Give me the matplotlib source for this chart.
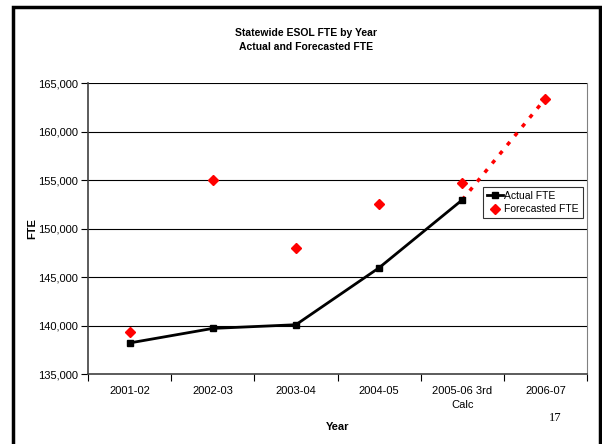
import numpy as np
import matplotlib
matplotlib.use("Agg")
import matplotlib.pyplot as plt
from matplotlib.patches import Rectangle
from matplotlib.ticker import FuncFormatter, FixedLocator

plt.rcParams['font.family'] = ['Liberation Sans', 'DejaVu Sans']

# --- data ---
years = ["2001-02", "2002-03", "2003-04", "2004-05", "2005-06 3rd\nCalc", "2006-07"]
actual_fte = [138200, 139700, 140080, 145950, 152950]
forecast_fte = [139350, 155000, 147950, 152550, 154700, 163400]

x = np.arange(len(years))

fig = plt.figure(figsize=(6.02, 4.44), dpi=100)
ax = fig.add_axes([88 / 602, 1 - 374 / 444, 499 / 602, 291 / 444])

# horizontal gridlines
for v in range(140000, 165001, 5000):
    ax.axhline(v, color="black", lw=0.8, zorder=1)

# actual line
ax.plot(x[:len(actual_fte)], actual_fte, color="black", lw=2.0, marker="s",
        markersize=4.5, label="Actual FTE", zorder=3)
# dotted projection segment
ax.plot([x[len(actual_fte) - 1], x[-1]], [actual_fte[-1], forecast_fte[-1]],
        color="red", lw=2.5, linestyle=(0, (1.2, 2.2)), zorder=2)
# forecast markers
ax.plot(x, forecast_fte, linestyle="none", marker="D", color="red",
        markersize=5, label="Forecasted FTE", zorder=4)

ax.set_xlim(-0.5, len(years) - 0.5)
ax.set_ylim(135000, 165000)
ax.set_yticks(range(135000, 165001, 5000))
ax.yaxis.set_major_formatter(FuncFormatter(lambda v, p: f"{int(v):,}"))
ax.tick_params(axis="y", length=5, width=0.8, labelsize=8, colors="black",
               pad=2)

ax.set_xticks(x)
ax.set_xticklabels(years, fontsize=8, linespacing=1.5)
ax.tick_params(axis="x", which="major", length=0, pad=9)
ax.xaxis.set_minor_locator(FixedLocator(np.arange(-0.5, len(years), 1.0)))
ax.tick_params(axis="x", which="minor", length=5, width=0.8)

for side in ["left", "bottom"]:
    ax.spines[side].set_color("#404040")
    ax.spines[side].set_linewidth(1.2)
ax.spines["right"].set_color("#808080")
ax.spines["top"].set_visible(False)

ax.set_xlabel("Year", fontsize=8, fontweight="bold", labelpad=8)
ax.set_ylabel("FTE", fontsize=8, fontweight="bold", labelpad=1)

leg = ax.legend(loc="upper left", bbox_to_anchor=(395 / 499, 1 - 104 / 291),
                fontsize=7.5, frameon=True, fancybox=False, edgecolor="black",
                borderpad=0.35, handlelength=1.6, handletextpad=0.1,
                labelspacing=0.35, borderaxespad=0)
leg.get_frame().set_linewidth(0.8)

fig.text(306 / 602, 1 - 33 / 444, "Statewide ESOL FTE by Year",
         ha="center", va="center", fontsize=7.5, fontweight="bold")
fig.text(306 / 602, 1 - 47 / 444, "Actual and Forecasted FTE",
         ha="center", va="center", fontsize=7.5, fontweight="bold")
fig.text(555 / 602, 1 - 418 / 444, "17", ha="center", va="center",
         fontsize=9, family="Liberation Serif")

# outer frame of the slide
fig.patches.append(Rectangle((13 / 602, -0.05), 587 / 602, 1.05 - 7 / 444,
                             transform=fig.transFigure, fill=False,
                             edgecolor="black", lw=2.5))

fig.savefig("out.png", dpi=100)
